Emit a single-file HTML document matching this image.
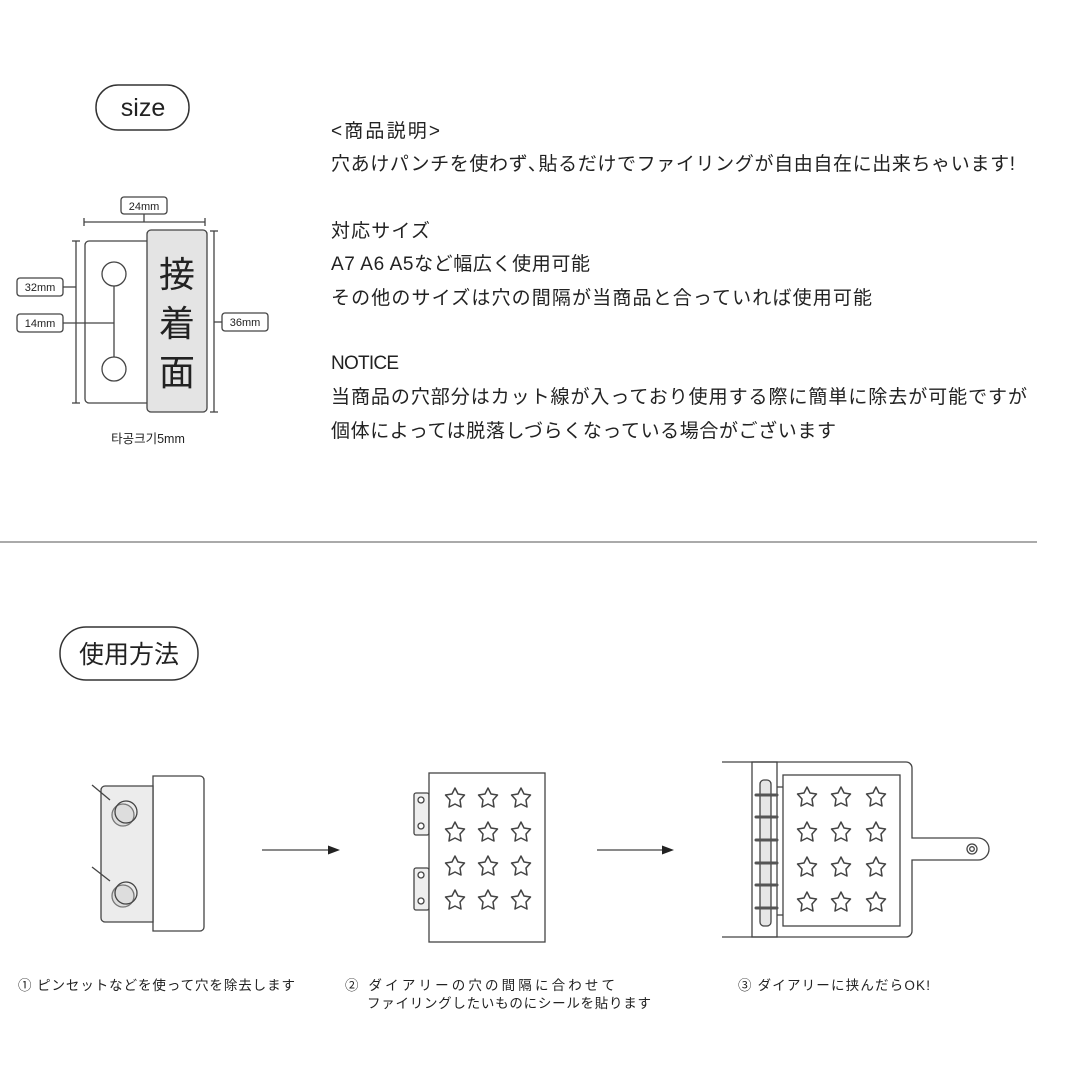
<!DOCTYPE html>
<html><head><meta charset="utf-8"><style>
body{margin:0;background:#fff;width:1080px;height:1080px;overflow:hidden}
svg{display:block}
text{font-family:"Liberation Sans","Noto Sans CJK JP",sans-serif;fill:#222}
</style></head><body>
<svg width="1080" height="1080" viewBox="0 0 1080 1080">
<defs>
<path id="st" d="M0,-10 L3,-4 L9.5,-3 L5,2 L6,9 L0,6 L-6,9 L-5,2 L-9.5,-3 L-3,-4 Z" fill="#fff" stroke="#444" stroke-width="1.5" stroke-linejoin="round"/>
</defs>
<rect x="96" y="85" width="93" height="45" rx="22" fill="#fff" stroke="#333" stroke-width="1.5"/>
<text x="143" y="116" font-size="25" text-anchor="middle">size</text>
<g font-size="19" lengthAdjust="spacingAndGlyphs">
<text x="331" y="137" textLength="109">&lt;商品説明&gt;</text>
<text x="331" y="170" textLength="684">穴あけパンチを使わず､貼るだけでファイリングが自由自在に出来ちゃいます!</text>
<text x="331" y="237" textLength="99">対応サイズ</text>
<text x="331" y="270" textLength="259">A7 A6 A5など幅広く使用可能</text>
<text x="331" y="304" textLength="541">その他のサイズは穴の間隔が当商品と合っていれば使用可能</text>
<text x="331" y="369" textLength="68">NOTICE</text>
<text x="331" y="403" textLength="696">当商品の穴部分はカット線が入っており使用する際に簡単に除去が可能ですが</text>
<text x="331" y="437" textLength="505">個体によっては脱落しづらくなっている場合がございます</text>
</g>
<g stroke="#444" stroke-width="1.3" fill="none">
<rect x="85" y="241" width="70" height="162" rx="4" fill="#fff"/>
<rect x="147" y="230" width="60" height="182" rx="4" fill="#e4e4e4"/>
<circle cx="114" cy="274" r="12" fill="#fff"/>
<circle cx="114" cy="369" r="12" fill="#fff"/>
<line x1="114" y1="286" x2="114" y2="357"/>
<line x1="63" y1="323" x2="114" y2="323"/>
<line x1="76" y1="241" x2="76" y2="403"/><line x1="72" y1="241" x2="80" y2="241"/><line x1="72" y1="403" x2="80" y2="403"/>
<line x1="63" y1="287" x2="76" y2="287"/>
<line x1="84" y1="222" x2="205" y2="222"/><line x1="84" y1="218" x2="84" y2="226"/><line x1="205" y1="218" x2="205" y2="226"/><line x1="144" y1="214" x2="144" y2="222"/>
<line x1="214" y1="231" x2="214" y2="412"/><line x1="210" y1="231" x2="218" y2="231"/><line x1="210" y1="412" x2="218" y2="412"/>
<line x1="214" y1="322" x2="222" y2="322"/>
<rect x="121" y="197" width="46" height="17" rx="3" fill="#fff"/>
<rect x="17" y="278" width="46" height="18" rx="3" fill="#fff"/>
<rect x="17" y="314" width="46" height="18" rx="3" fill="#fff"/>
<rect x="222" y="313" width="46" height="18" rx="3" fill="#fff"/>
</g>
<g font-size="11" text-anchor="middle">
<text x="144" y="210">24mm</text><text x="40" y="291">32mm</text><text x="40" y="327">14mm</text><text x="245" y="326">36mm</text>
</g>
<g font-size="36" text-anchor="middle" fill="#111">
<text x="177" y="287">接</text><text x="177" y="336">着</text><text x="177" y="385">面</text>
</g>
<text x="148" y="443" font-size="12.5" text-anchor="middle" fill="#555">타공크기5mm</text>
<line x1="0" y1="542" x2="1037" y2="542" stroke="#777" stroke-width="1.3"/>
<rect x="60" y="627" width="138" height="53" rx="26" fill="#fff" stroke="#333" stroke-width="1.5"/>
<text x="129" y="663" font-size="25" text-anchor="middle">使用方法</text>
<g stroke="#444" stroke-width="1.3">
<path d="M153,776 H200 a4,4 0 0 1 4,4 V927 a4,4 0 0 1 -4,4 H153 Z" fill="#fff"/>
<path d="M153,786 H105 a4,4 0 0 0 -4,4 V918 a4,4 0 0 0 4,4 H153 Z" fill="#ececec"/>
<circle cx="123" cy="815" r="11" fill="#ddd" stroke="#777"/><circle cx="126" cy="812" r="11" fill="none"/>
<circle cx="123" cy="896" r="11" fill="#ddd" stroke="#777"/><circle cx="126" cy="893" r="11" fill="none"/>
<line x1="92" y1="785" x2="110" y2="800"/><line x1="92" y1="867" x2="110" y2="881"/>
<line x1="262" y1="850" x2="330" y2="850"/>
<line x1="597" y1="850" x2="664" y2="850"/>
</g>
<path d="M340,850 L328,845.5 L328,854.5 Z" fill="#222"/>
<path d="M674,850 L662,845.5 L662,854.5 Z" fill="#222"/>
<g stroke="#444" stroke-width="1.3" fill="#fff">
<rect x="414" y="793" width="15" height="42" rx="2" fill="#eee"/>
<rect x="414" y="868" width="15" height="42" rx="2" fill="#eee"/>
<circle cx="421" cy="800" r="3"/><circle cx="421" cy="826" r="3"/><circle cx="421" cy="875" r="3"/><circle cx="421" cy="901" r="3"/>
<rect x="429" y="773" width="116" height="169"/>
</g>
<g>
<use href="#st" x="455" y="798"/><use href="#st" x="488" y="798"/><use href="#st" x="521" y="798"/>
<use href="#st" x="455" y="832"/><use href="#st" x="488" y="832"/><use href="#st" x="521" y="832"/>
<use href="#st" x="455" y="866"/><use href="#st" x="488" y="866"/><use href="#st" x="521" y="866"/>
<use href="#st" x="455" y="900"/><use href="#st" x="488" y="900"/><use href="#st" x="521" y="900"/>
</g>
<g stroke="#444" stroke-width="1.3" fill="none">
<path d="M722,762 H906 a6,6 0 0 1 6,6 V838 H978 a11,11 0 0 1 0,22 H912 V931 a6,6 0 0 1 -6,6 H722"/>
<circle cx="972" cy="849" r="5"/><circle cx="972" cy="849" r="2.3"/>
<rect x="752" y="762" width="25" height="175"/>
<rect x="760" y="780" width="11" height="146" rx="4" fill="#e6e6e6"/>
<rect x="783" y="775" width="117" height="151" fill="#fff"/>
<line x1="777" y1="787" x2="783" y2="787"/><line x1="777" y1="915" x2="783" y2="915"/>
</g>
<g stroke="#555" stroke-width="3" stroke-linecap="round">
<line x1="756" y1="795" x2="777" y2="795"/><line x1="756" y1="817" x2="777" y2="817"/><line x1="756" y1="840" x2="777" y2="840"/>
<line x1="756" y1="863" x2="777" y2="863"/><line x1="756" y1="885" x2="777" y2="885"/><line x1="756" y1="908" x2="777" y2="908"/>
</g>
<g>
<use href="#st" x="807" y="797"/><use href="#st" x="841" y="797"/><use href="#st" x="876" y="797"/>
<use href="#st" x="807" y="832"/><use href="#st" x="841" y="832"/><use href="#st" x="876" y="832"/>
<use href="#st" x="807" y="867"/><use href="#st" x="841" y="867"/><use href="#st" x="876" y="867"/>
<use href="#st" x="807" y="902"/><use href="#st" x="841" y="902"/><use href="#st" x="876" y="902"/>
</g>
<g font-size="13.5" lengthAdjust="spacingAndGlyphs">
<text x="18" y="990" textLength="277">① ピンセットなどを使って穴を除去します</text>
<text x="345" y="990" textLength="270">② ダイアリーの穴の間隔に合わせて</text>
<text x="367" y="1008" textLength="284">ファイリングしたいものにシールを貼ります</text>
<text x="738" y="990" textLength="192">③ ダイアリーに挟んだらOK!</text>
</g>
</svg>
</body></html>
